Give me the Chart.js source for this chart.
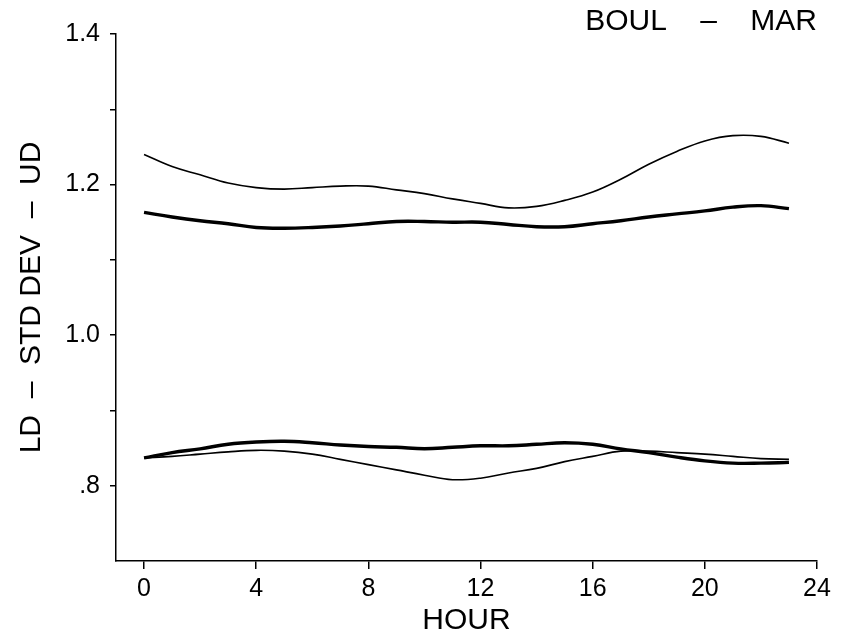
<!DOCTYPE html>
<html>
<head>
<meta charset="utf-8">
<script src="https://cdn.jsdelivr.net/npm/chart.js@4"></script>
<style>
  html, body { margin: 0; padding: 0; background: #fff; }
  #wrap { width: 846px; height: 639px; }
</style>
</head>
<body>
<div id="wrap"><canvas id="chart" width="846" height="639"></canvas></div>
<script>
// hours 0..23
const hours = [0,1,2,3,4,5,6,7,8,9,10,11,12,13,14,15,16,17,18,19,20,21,22,23];

// upper pair
const udThin  = [1.240,1.224,1.213,1.202,1.196,1.194,1.196,1.198,1.198,1.193,1.188,1.181,1.175,1.169,1.171,1.179,1.190,1.207,1.227,1.244,1.258,1.265,1.264,1.255];
const udThick = [1.163,1.157,1.152,1.148,1.143,1.142,1.143,1.145,1.148,1.151,1.151,1.150,1.150,1.147,1.144,1.144,1.148,1.152,1.157,1.161,1.165,1.170,1.172,1.168];

// lower pair
const ldThick = [0.837,0.844,0.849,0.855,0.858,0.859,0.857,0.854,0.852,0.851,0.849,0.851,0.853,0.853,0.855,0.857,0.855,0.849,0.844,0.838,0.833,0.830,0.830,0.831];
const ldThin  = [0.837,0.839,0.842,0.845,0.847,0.846,0.842,0.835,0.828,0.821,0.814,0.808,0.810,0.817,0.823,0.832,0.839,0.846,0.846,0.844,0.842,0.839,0.836,0.835];

const xTicks = [0,4,8,12,16,20,24];
const yTicks = [0.8,0.9,1.0,1.1,1.2,1.3,1.4];
const yTickLabels = ['.8','','1.0','','1.2','','1.4'];

const FONT = "'Liberation Sans', Arial, sans-serif";

const series = (vals, width) => ({
    data: hours.map((h, i) => ({x: h, y: vals[i]})),
    borderColor: '#000',
    borderWidth: width,
    pointRadius: 0,
    tension: 0.4,
    fill: false
});

new Chart(document.getElementById('chart').getContext('2d'), {
    type: 'line',
    data: {
        datasets: [
            series(udThin, 1.6),
            series(udThick, 3.4),
            series(ldThick, 3.4),
            series(ldThin, 1.6)
        ]
    },
    options: {
        responsive: false,
        animation: false,
        layout: { padding: { left: 0, right: 29, top: 0, bottom: 0 } },
        plugins: {
            legend: { display: false },
            tooltip: { enabled: false },
            title: {
                display: true,
                text: 'BOUL    –    MAR',
                align: 'end',
                color: '#000',
                font: { family: FONT, size: 30, weight: 'normal', lineHeight: 0.8 },
                padding: { top: 10, bottom: 0 }
            }
        },
        scales: {
            x: {
                type: 'linear',
                min: -1,
                max: 24,
                afterBuildTicks: s => { s.ticks = xTicks.map(v => ({ value: v })); },
                afterFit: s => { s.height = 78; },
                ticks: {
                    color: '#000',
                    padding: 5,
                    maxRotation: 0,
                    font: { family: FONT, size: 25 }
                },
                grid: {
                    drawOnChartArea: false,
                    drawTicks: true,
                    tickLength: 8,
                    color: '#000',
                    lineWidth: 1.5
                },
                border: { display: true, color: '#000', width: 1.5 },
                title: {
                    display: true,
                    text: 'HOUR',
                    color: '#000',
                    font: { family: FONT, size: 30, lineHeight: 1.2 },
                    padding: { top: 0, bottom: 0 }
                }
            },
            y: {
                min: 0.7,
                max: 1.4,
                afterBuildTicks: s => { s.ticks = yTicks.map(v => ({ value: v })); },
                afterFit: s => { s.width = 116; },
                ticks: {
                    color: '#000',
                    padding: 10,
                    font: { family: FONT, size: 25 },
                    callback: (v, i) => yTickLabels[i]
                },
                grid: {
                    drawOnChartArea: false,
                    drawTicks: true,
                    tickLength: 6,
                    color: '#000',
                    lineWidth: 1.5
                },
                border: { display: true, color: '#000', width: 1.5 },
                title: {
                    display: true,
                    text: 'LD  –  STD DEV  –  UD',
                    color: '#000',
                    font: { family: FONT, size: 30, lineHeight: 1.2 },
                    padding: { top: 14, bottom: 0 }
                }
            }
        }
    }
});
</script>
</body>
</html>
